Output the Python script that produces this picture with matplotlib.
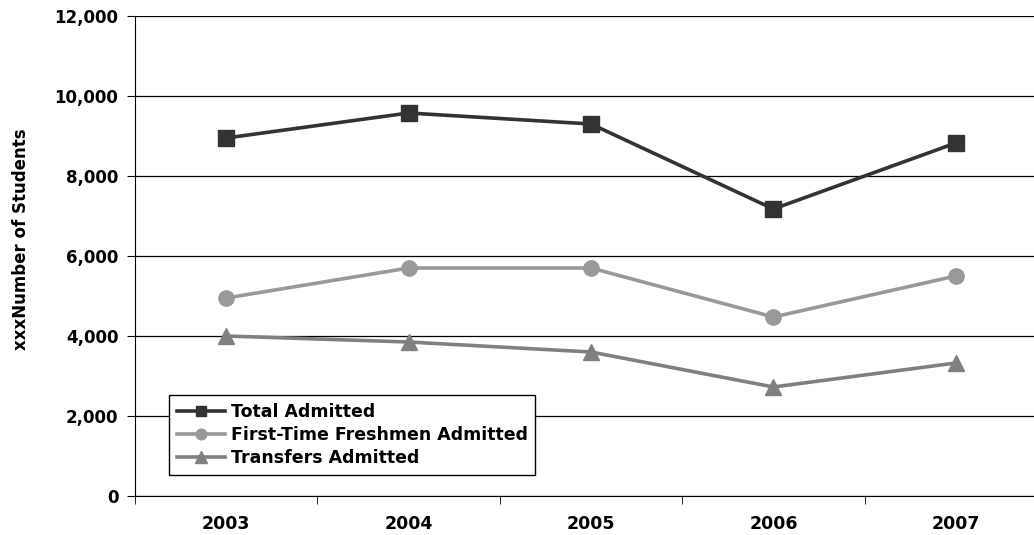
import matplotlib.pyplot as plt
import numpy as np

years = ['2003', '2004', '2005', '2006', '2007']
total = [8950, 9575, 9300, 7175, 8825]
freshmen = [4950, 5700, 5700, 4475, 5500]
transfers = [4000, 3850, 3600, 2725, 3325]

fig = plt.figure(figsize=(10.34, 5.35), dpi=100)
# right edge of the plot area lies just beyond the picture, as in the reference
ax = fig.add_axes([135 / 1034, 39 / 535, 912 / 1034, 480 / 535])

x = np.arange(len(years))
ax.plot(x, total, color='#333333', lw=2.6, marker='s', ms=11, label='Total Admitted', clip_on=False)
ax.plot(x, freshmen, color='#999999', lw=2.6, marker='o', ms=11, label='First-Time Freshmen Admitted', clip_on=False)
ax.plot(x, transfers, color='#808080', lw=2.6, marker='^', ms=12, label='Transfers Admitted', clip_on=False)

ax.set_xlim(-0.5, 4.5)
ax.set_ylim(0, 12000)
ax.set_yticks(range(0, 12001, 2000))
ax.set_yticklabels([f'{v:,}' for v in range(0, 12001, 2000)], fontsize=12, fontweight='bold')
ax.set_xticks(x)
ax.set_xticklabels(years, fontsize=12.5, fontweight='bold')
ax.set_xticks(np.arange(-0.5, 5, 1), minor=True)
ax.tick_params(axis='x', which='major', length=0, pad=14)
ax.tick_params(axis='x', which='minor', length=6, direction='out', color='black')
ax.tick_params(axis='y', length=6, direction='out', color='black', pad=6)

ax.grid(axis='y', color='black', lw=0.9)
ax.set_axisbelow(True)
for s in ['top', 'right']:
    ax.spines[s].set_visible(False)
ax.spines['left'].set_color('black')
ax.spines['bottom'].set_color('black')

ax.set_ylabel('xxxNumber of Students', fontsize=12, fontweight='bold')
ax.yaxis.set_label_coords(-105 / 912, 0.535)

leg = ax.legend(loc='lower left', bbox_to_anchor=(34 / 912, 21 / 480),
                prop={'weight': 'bold', 'size': 12.5}, frameon=True, fancybox=False,
                edgecolor='black', framealpha=1, handlelength=2.8, borderpad=0.45,
                labelspacing=0.3, handletextpad=0.3, markerscale=0.7, borderaxespad=0)
leg.get_frame().set_linewidth(1.0)

fig.savefig('out.png', dpi=100)
